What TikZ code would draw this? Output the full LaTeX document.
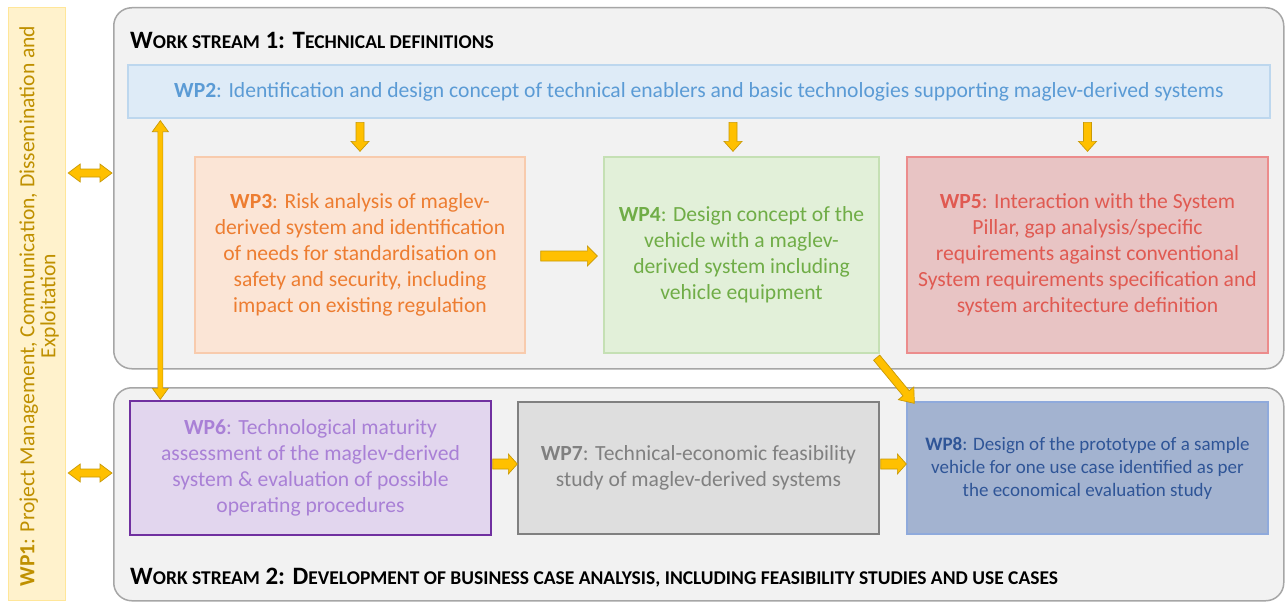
\documentclass[tikz,border=0pt]{standalone}
\usepackage{fontspec}
\setmainfont{Carlito}
\usetikzlibrary{calc}
\definecolor{wsfill}{HTML}{F2F2F2}
\definecolor{wsline}{HTML}{A6A6A6}
\definecolor{wp1fill}{HTML}{FFF2CC}
\definecolor{wp1line}{HTML}{FFE699}
\definecolor{wp1text}{HTML}{BF9000}
\definecolor{wp2fill}{HTML}{DEEBF7}
\definecolor{wp2line}{HTML}{BDD7EE}
\definecolor{wp2text}{HTML}{5B9BD5}
\definecolor{wp3fill}{HTML}{FBE5D6}
\definecolor{wp3line}{HTML}{F8CBAD}
\definecolor{wp3text}{HTML}{ED7D31}
\definecolor{wp4fill}{HTML}{E2F0D9}
\definecolor{wp4line}{HTML}{C5E0B4}
\definecolor{wp4text}{HTML}{70AD47}
\definecolor{wp5fill}{HTML}{E8C4C4}
\definecolor{wp5line}{HTML}{EC8C8C}
\definecolor{wp5text}{HTML}{E05A52}
\definecolor{wp6fill}{HTML}{E2D6EE}
\definecolor{wp6line}{HTML}{7030A0}
\definecolor{wp6text}{HTML}{A980D6}
\definecolor{wp7fill}{HTML}{DEDEDE}
\definecolor{wp7line}{HTML}{808080}
\definecolor{wp7text}{HTML}{808080}
\definecolor{wp8fill}{HTML}{A3B3D0}
\definecolor{wp8line}{HTML}{8FAADC}
\definecolor{wp8text}{HTML}{2F5597}
\definecolor{arrfill}{HTML}{FFC000}
\definecolor{arrline}{HTML}{C99A06}
\newcommand\smc[1]{{\fontsize{19.5}{20}\selectfont #1}}
% #1 start, #2 end, #3 shaft half width, #4 head half width, #5 head length
\newcommand\blockarrow[5]{%
  \coordinate (ba) at (#1); \coordinate (bb) at (#2);
  \coordinate (bh) at ($(bb)!#5!(ba)$);
  \filldraw[arrstyle] ($(ba)!#3!90:(bb)$) -- ($(bh)!#3!90:(bb)$) -- ($(bh)!#4!90:(bb)$) -- (bb)
    -- ($(bh)!#4!-90:(bb)$) -- ($(bh)!#3!-90:(bb)$) -- ($(ba)!#3!-90:(bb)$) -- cycle;}
\newcommand\dblockarrow[5]{%
  \coordinate (ba) at (#1); \coordinate (bb) at (#2);
  \coordinate (bh) at ($(bb)!#5!(ba)$);
  \coordinate (bg) at ($(ba)!#5!(bb)$);
  \filldraw[arrstyle] (ba) -- ($(bg)!#4!90:(bb)$) -- ($(bg)!#3!90:(bb)$) -- ($(bh)!#3!90:(bb)$) -- ($(bh)!#4!90:(bb)$) -- (bb)
    -- ($(bh)!#4!-90:(bb)$) -- ($(bh)!#3!-90:(bb)$) -- ($(bg)!#3!-90:(bb)$) -- ($(bg)!#4!-90:(bb)$) -- cycle;}
\begin{document}
\begin{tikzpicture}[x=1pt,y=-1pt,
  arrstyle/.style={fill=arrfill,draw=arrline,line width=0.7pt,line join=miter},
  wsbox/.style={draw=wsline,fill=wsfill,line width=1.5pt,rounded corners=18pt,anchor=north west,inner sep=0pt},
  wpbox/.style={line width=1.3pt,anchor=center,inner sep=0pt,align=center,font=\fontsize{21.6}{26}\selectfont},
  title/.style={anchor=west,inner sep=0pt,font=\bfseries\fontsize{25}{28}\selectfont}]
\useasboundingbox (0,0) rectangle (1285,602);
\fill[white] (0,0) rectangle (1285,602);
% WP1
\node[draw=wp1line,fill=wp1fill,line width=1.2pt,anchor=north west,minimum width=57pt,minimum height=593pt,inner sep=0pt] (wp1) at (8,7) {};
\node[rotate=90,align=center,text=wp1text,inner sep=0pt,font=\fontsize{21.6}{21}\selectfont] (wp1t) at (39,306) {\textbf{WP1}: Project Management, Communication, Dissemination and\\Exploitation};
% Work streams
\node[wsbox,minimum width=1170pt,minimum height=361pt] (ws1) at (113,7) {};
\node[wsbox,minimum width=1170pt,minimum height=213pt] (ws2) at (113,387) {};
\node[title] (t1) at (130,40) {W\smc{ORK STREAM} 1: T\smc{ECHNICAL DEFINITIONS}};
\node[title] (t2) at (130,578) {W\smc{ORK STREAM} 2: D\smc{EVELOPMENT OF BUSINESS CASE ANALYSIS, INCLUDING FEASIBILITY STUDIES AND USE CASES}};
% Work packages
\node[wpbox,fill=wp2fill,draw=wp2line,text=wp2text,minimum width=1142pt,minimum height=53pt] (wp2) at (699,91.5)
  {\textbf{WP2}: Identification and design concept of technical enablers and basic technologies supporting maglev-derived systems};
\node[wpbox,fill=wp3fill,draw=wp3line,text=wp3text,minimum width=330pt,minimum height=196pt] (wp3) at (360,255)
  {\textbf{WP3}: Risk analysis of maglev-\\derived system and identification\\of needs for standardisation on\\safety and security, including\\impact on existing regulation};
\node[wpbox,fill=wp4fill,draw=wp4line,text=wp4text,minimum width=275pt,minimum height=196pt] (wp4) at (741.5,255)
  {\textbf{WP4}: Design concept of the\\vehicle with a maglev-\\derived system including\\vehicle equipment};
\node[wpbox,fill=wp5fill,draw=wp5line,text=wp5text,minimum width=361pt,minimum height=196pt] (wp5) at (1087.5,255)
  {\textbf{WP5}: Interaction with the System\\Pillar, gap analysis/specific\\requirements against conventional\\System requirements specification and\\system architecture definition};
\node[wpbox,fill=wp6fill,draw=wp6line,text=wp6text,minimum width=361pt,minimum height=134pt] (wp6) at (310.5,468)
  {\textbf{WP6}: Technological maturity\\assessment of the maglev-derived\\system \& evaluation of possible\\operating procedures};
\node[wpbox,fill=wp7fill,draw=wp7line,text=wp7text,minimum width=361pt,minimum height=132pt] (wp7) at (698.5,468)
  {\textbf{WP7}: Technical-economic feasibility\\study of maglev-derived systems};
\node[wpbox,fill=wp8fill,draw=wp8line,text=wp8text,minimum width=361pt,minimum height=132pt,font=\fontsize{19}{23}\selectfont] (wp8) at (1087.5,468)
  {\textbf{WP8}: Design of the prototype of a sample\\vehicle for one use case identified as per\\the economical evaluation study};
% Arrows
\blockarrow{$(wp3.north)+(0,-34)$}{$(wp3.north)+(0,-5)$}{4pt}{9pt}{10pt}
\blockarrow{$(wp4.north)+(-8.5,-34)$}{$(wp4.north)+(-8.5,-5)$}{4pt}{9pt}{10pt}
\blockarrow{$(wp5.north)+(0,-34)$}{$(wp5.north)+(0,-5)$}{4pt}{9pt}{10pt}
\blockarrow{$(wp3.east)+(15,1)$}{$(wp4.west)+(-6,1)$}{5pt}{10pt}{10pt}
\blockarrow{$(wp6.east)+(1,-4)$}{$(wp7.west)+(0,-4)$}{5pt}{10pt}{9pt}
\blockarrow{$(wp7.east)+(1,-4)$}{$(wp8.west)+(0,-4)$}{5pt}{10pt}{9pt}
\blockarrow{$(wp4.south east)+(-3,4)$}{$(wp8.north west)+(8,2)$}{4pt}{10pt}{13pt}
\dblockarrow{$(wp2.south west)+(33,2)$}{$(wp6.north west)+(31,-1)$}{2.5pt}{8pt}{11pt}
\dblockarrow{$(wp1.north east)+(2,166)$}{$(ws1.north west)+(-1,166)$}{4pt}{9pt}{12pt}
\dblockarrow{$(wp1.north east)+(2,466)$}{$(ws2.north west)+(-1,86)$}{4pt}{9pt}{12pt}
\end{tikzpicture}
\end{document}
